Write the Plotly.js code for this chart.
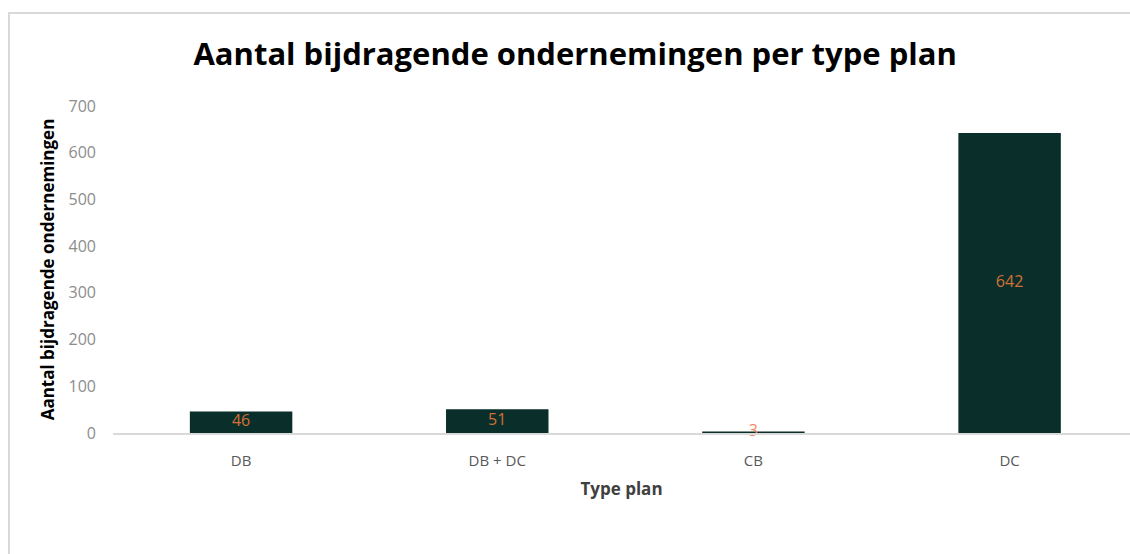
<!DOCTYPE html>
<html>
<head>
<meta charset="utf-8">
<script src="https://cdn.plot.ly/plotly-3.0.1.min.js"></script>
<style>
  html, body { margin: 0; padding: 0; background: #ffffff; }
  #wrap { position: relative; width: 1130px; height: 554px; overflow: hidden; }
  #frame { position: absolute; left: 8px; top: 12px; width: 1130px; height: 560px;
           border-top: 2px solid #d9d9d9; border-left: 2px solid #d9d9d9; box-sizing: border-box; }
  #chart { position: absolute; left: 0; top: 0; width: 1130px; height: 554px; }
</style>
</head>
<body>
<div id="wrap">
  <div id="frame"></div>
  <div id="chart"></div>
</div>
<script>
const categories = ["DB", "DB + DC", "CB", "DC"];
const values = [46, 51, 3, 642];
const labelColors = ["#D46F35", "#D46F35", "#F4895F", "#D46F35"];
const yTicks = [0, 100, 200, 300, 400, 500, 600, 700];

const FONT = "'Open Sans', Lato, 'Liberation Sans', sans-serif";

const bars = {
  type: "bar",
  x: categories,
  y: values,
  marker: { color: "#0a2f2b", line: { width: 0 } },
  hoverinfo: "x+y",
  showlegend: false
};

const labels = {
  type: "scatter",
  mode: "text",
  x: categories,
  y: values.map(v => v / 2),
  text: values.map(String),
  textposition: "middle center",
  textfont: { family: FONT, size: 16, color: labelColors },
  hoverinfo: "skip",
  showlegend: false,
  cliponaxis: false
};

const layout = {
  width: 1130,
  height: 554,
  paper_bgcolor: "rgba(0,0,0,0)",
  plot_bgcolor: "rgba(0,0,0,0)",
  margin: { l: 113, r: 0, t: 106, b: 121 },
  bargap: 0.6,
  title: {
    text: "<b>Aantal bijdragende ondernemingen per type plan</b>",
    font: { family: FONT, size: 31, color: "#000000" },
    x: 0.509, xanchor: "center",
    y: 1 - 54 / 554, yanchor: "middle", yref: "container"
  },
  xaxis: {
    type: "category",
    range: [-0.5, 3.47],
    showgrid: false,
    showline: true,
    linecolor: "#d9d9d9",
    linewidth: 1.5,
    ticks: "",
    tickfont: { family: FONT, size: 15, color: "#595959" },
    ticklabelstandoff: 13,
    zeroline: false,
    title: {
      text: "<b>Type plan</b>",
      font: { family: FONT, size: 17, color: "#404040" },
      standoff: 14
    }
  },
  yaxis: {
    range: [0, 700],
    tickvals: yTicks,
    showgrid: false,
    showline: false,
    zeroline: false,
    ticks: "",
    tickfont: { family: FONT, size: 16, color: "#8c8c8c" },
    ticklabelstandoff: 16,
    title: {
      text: "<b>Aantal bijdragende ondernemingen</b>",
      font: { family: FONT, size: 17, color: "#000000" },
      standoff: 9
    }
  }
};

Plotly.newPlot("chart", [bars, labels], layout, { displayModeBar: false, staticPlot: true });
</script>
</body>
</html>
